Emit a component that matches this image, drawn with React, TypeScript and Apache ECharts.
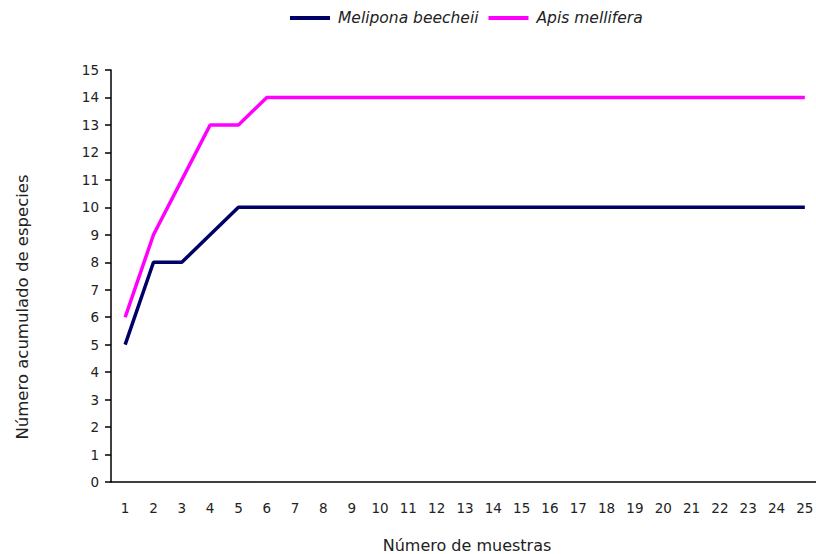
import React, { useEffect, useRef } from "react";
import * as echarts from "echarts";

const categories = ["1","2","3","4","5","6","7","8","9","10","11","12","13","14","15","16","17","18","19","20","21","22","23","24","25"];
const melipona = [5, 8, 8, 9, 10, 10, 10, 10, 10, 10, 10, 10, 10, 10, 10, 10, 10, 10, 10, 10, 10, 10, 10, 10, 10];
const apis = [6, 9, 11, 13, 13, 14, 14, 14, 14, 14, 14, 14, 14, 14, 14, 14, 14, 14, 14, 14, 14, 14, 14, 14, 14];
const yTicks = { min: 0, max: 15, interval: 1 };
const xTitle = "Número de muestras";
const yTitle = "Número acumulado de especies";

const FONT = "DejaVu Sans, Verdana, sans-serif";
const TXT = "#222";

export default function App() {
  const ref = useRef<HTMLDivElement>(null);
  useEffect(() => {
    const chart = echarts.init(ref.current!, null, { renderer: "svg" });
    chart.setOption({
      animation: false,
      backgroundColor: "#fff",
      textStyle: { fontFamily: FONT },
      legend: {
        top: 10,
        left: 290,
        padding: 0,
        icon: "rect",
        itemWidth: 40,
        itemHeight: 4,
        itemGap: 10,
        textStyle: { fontFamily: FONT, fontSize: 15.5, fontStyle: "italic", color: TXT, padding: [0, 0, 0, 3] },
        data: ["Melipona beecheii", "Apis mellifera"],
      },
      grid: {
        left: 111,
        width: 708,
        top: 70,
        bottom: 72,
        containLabel: false,
        outerBoundsMode: "none",
      },
      xAxis: {
        type: "category",
        data: categories,
        boundaryGap: true,
        axisLine: { lineStyle: { color: "#000", width: 1.5 } },
        axisTick: { length: 7, lineStyle: { color: "#000", width: 1.5 } },
        axisLabel: { fontFamily: FONT, fontSize: 13.5, color: TXT, margin: 19 },
        splitLine: { show: false },
      },
      yAxis: {
        type: "value",
        min: yTicks.min,
        max: yTicks.max,
        interval: yTicks.interval,
        axisLine: { show: true, lineStyle: { color: "#000", width: 1.5 } },
        axisTick: { show: true, length: 6, lineStyle: { color: "#000", width: 1.5 } },
        axisLabel: { fontFamily: FONT, fontSize: 13.5, color: TXT, margin: 12 },
        splitLine: { show: false },
      },
      graphic: [
        {
          type: "text",
          x: 467,
          y: 545,
          style: {
            text: xTitle,
            fontFamily: FONT,
            fontSize: 16,
            fill: TXT,
            align: "center",
            verticalAlign: "middle",
          },
        },
        {
          type: "text",
          x: 22,
          y: 307,
          rotation: Math.PI / 2,
          style: {
            text: yTitle,
            fontFamily: FONT,
            fontSize: 16.5,
            fill: TXT,
            align: "center",
            verticalAlign: "middle",
          },
        },
      ],
      series: [
        {
          name: "Melipona beecheii",
          type: "line",
          data: melipona,
          symbol: "none",
          color: "#000066",
          lineStyle: { color: "#000066", width: 3.5 },
        },
        {
          name: "Apis mellifera",
          type: "line",
          data: apis,
          symbol: "none",
          color: "#ff00ff",
          lineStyle: { color: "#ff00ff", width: 3.5 },
        },
      ],
    });
    return () => chart.dispose();
  }, []);
  return (
    <div
      ref={ref}
      style={{ position: "fixed", left: 0, top: 0, width: 816, height: 554 }}
    />
  );
}
